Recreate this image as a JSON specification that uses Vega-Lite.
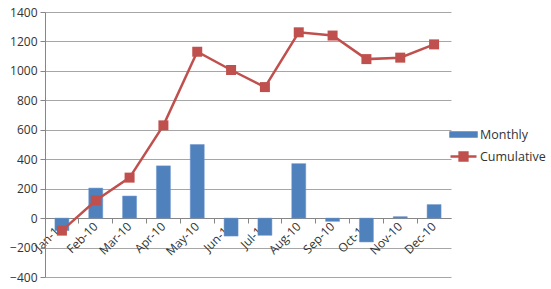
{
  "$schema": "https://vega.github.io/schema/vega-lite/v6.json",
  "autosize": {"type": "none"},
  "width": 406,
  "height": 265,
  "padding": {"left": 45, "top": 12, "right": 100, "bottom": 12},
  "background": "white",
  "config": {
    "view": {"stroke": null},
    "font": "Open Sans",
    "axis": {"labelFont": "Open Sans", "labelFontSize": 12, "labelColor": "#333333", "domainColor": "#868686", "tickColor": "#868686", "gridColor": "#A6A6A6", "title": null}
  },
  "data": {"values": [
    {"month": "Jan-10", "monthly": -85, "cumulative": -85},
    {"month": "Feb-10", "monthly": 204, "cumulative": 120},
    {"month": "Mar-10", "monthly": 150, "cumulative": 275},
    {"month": "Apr-10", "monthly": 355, "cumulative": 630},
    {"month": "May-10", "monthly": 500, "cumulative": 1130},
    {"month": "Jun-10", "monthly": -122, "cumulative": 1006},
    {"month": "Jul-10", "monthly": -117, "cumulative": 890},
    {"month": "Aug-10", "monthly": 370, "cumulative": 1262},
    {"month": "Sep-10", "monthly": -22, "cumulative": 1240},
    {"month": "Oct-10", "monthly": -162, "cumulative": 1080},
    {"month": "Nov-10", "monthly": 10, "cumulative": 1090},
    {"month": "Dec-10", "monthly": 92, "cumulative": 1180}
  ]},
  "resolve": {"axis": {"x": "independent"}},
  "layer": [
    {
      "mark": {"type": "bar", "width": 14, "stroke": "#6C97CC", "strokeWidth": 0.5},
      "encoding": {
        "x": {"field": "month", "type": "nominal", "sort": null, "scale": {"paddingInner": 0, "paddingOuter": 0},
          "axis": {"orient": "bottom", "offset": -59, "labels": false, "ticks": true, "tickSize": 5, "bandPosition": 0, "domain": true, "grid": false}},
        "y": {"field": "monthly", "type": "quantitative",
          "scale": {"domain": [-400, 1400], "nice": false},
          "axis": {"values": [-400, -200, 0, 200, 400, 600, 800, 1000, 1200, 1400], "format": "d", "labelOverlap": false, "grid": true, "tickSize": 5, "labelPadding": 3, "domain": true}},
        "color": {"datum": "Monthly", "type": "nominal",
          "scale": {"domain": ["Monthly", "Cumulative"], "range": ["#4F81BD", "#C0504D"]},
          "legend": {
            "orient": "none", "legendX": 404, "legendY": 108, "title": null,
            "symbolType": {"expr": "datum.value === 'Monthly' ? 'M-1,-0.16H1V0.16H-1Z' : 'M-1,0H1M-0.3,-0.3H0.3V0.3H-0.3Z'"},
            "symbolSize": 676, "symbolStrokeWidth": 2.5, "symbolOpacity": 1, "rowPadding": -3, "labelOffset": 2,
            "labelFont": "Open Sans", "labelFontSize": 12.5, "labelColor": "#333333"
          }}
      }
    },
    {
      "mark": {"type": "line", "strokeWidth": 2.5, "point": {"shape": "square", "size": 100, "filled": true, "opacity": 1}},
      "encoding": {
        "x": {"field": "month", "type": "nominal", "sort": null,
          "axis": {"orient": "bottom", "offset": -59, "labels": true, "ticks": false, "domain": false, "grid": false, "labelAngle": -45, "labelAlign": "right", "labelBaseline": "middle", "labelPadding": 6}},
        "y": {"field": "cumulative", "type": "quantitative",
          "axis": {"values": [-400, -200, 0, 200, 400, 600, 800, 1000, 1200, 1400], "format": "d", "labelOverlap": false, "grid": true, "tickSize": 5, "labelPadding": 3, "domain": true}},
        "color": {"datum": "Cumulative", "type": "nominal"}
      }
    }
  ]
}
